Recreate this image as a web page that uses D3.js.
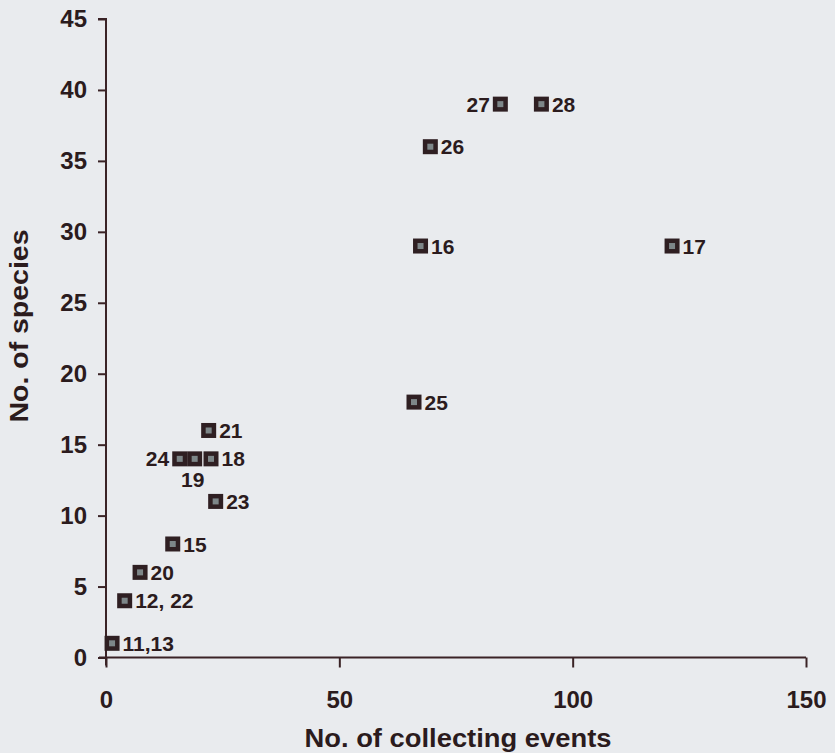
<!DOCTYPE html>
<html>
<head>
<meta charset="utf-8">
<script src="https://cdn.jsdelivr.net/npm/d3@7"></script>
<style>
  html, body { margin: 0; padding: 0; background: #e9ebee; }
  svg { display: block; }
  text { font-family: "Liberation Sans", Arial, sans-serif; font-weight: bold; fill: #2b1b1d; }
</style>
</head>
<body>
<svg id="chart" width="835" height="753"></svg>
<script>
// ---- data ----
const labels = ["11,13", "12, 22", "20", "15", "24", "19", "18", "21", "23", "25", "16", "26", "27", "28", "17"];
const events = [1.3, 4, 7.3, 14.3, 15.8, 19.0, 22.5, 22, 23.5, 66, 67.4, 69.5, 84.5, 93.3, 121.3];
const species = [1, 4, 6, 8, 14, 14, 14, 16, 11, 18, 29, 36, 39, 39, 29];
const xTicks = [0, 50, 100, 150];
const yTicks = [0, 5, 10, 15, 20, 25, 30, 35, 40, 45];
const xTitle = "No. of collecting events";
const yTitle = "No. of species";

// ---- layout ----
const svg = d3.select("#chart");
const axisColor = "#3a2326";
const x = d3.scaleLinear().domain([0, 150]).range([106, 806]);
const y = d3.scaleLinear().domain([0, 45]).range([657.5, 19]);

// axes
const xAxis = d3.axisBottom(x).tickValues(xTicks).tickSize(10).tickPadding(23);
const yAxis = d3.axisLeft(y).tickValues(yTicks).tickSize(8).tickPadding(11);

const gx = svg.append("g").attr("transform", `translate(0,${y(0)})`).call(xAxis);
const gy = svg.append("g").attr("transform", `translate(${x(0)},0)`).call(yAxis);

[gx, gy].forEach(g => {
  g.select(".domain").attr("stroke", axisColor).attr("stroke-width", 2);
  g.selectAll(".tick line").attr("stroke", axisColor).attr("stroke-width", 2);
  g.selectAll(".tick text").attr("font-size", 24).attr("font-family", "Liberation Sans, Arial, sans-serif")
    .attr("font-weight", "bold").attr("fill", "#2b1b1d");
});
gx.select(".domain").attr("d", `M${x(0) - 7},0H${x(150)}`);
gy.select(".domain").attr("d", `M-8,${y(45)}H0V${y(0) + 8}`);

// axis titles
svg.append("text").attr("x", 458).attr("y", 747)
  .attr("text-anchor", "middle").attr("font-size", 26)
  .attr("textLength", 307).attr("lengthAdjust", "spacingAndGlyphs").text(xTitle);
svg.append("text").attr("transform", `translate(28,326) rotate(-90)`)
  .attr("text-anchor", "middle").attr("font-size", 26)
  .attr("textLength", 193).attr("lengthAdjust", "spacingAndGlyphs").text(yTitle);

// points
const data = labels.map((l, i) => ({ label: l, x: events[i], y: species[i] }));
const ms = 15;
const pts = svg.append("g").selectAll("g").data(data).join("g")
  .attr("transform", d => `translate(${x(d.x)},${y(d.y)})`);
pts.append("rect").attr("x", -ms / 2).attr("y", -ms / 2).attr("width", ms).attr("height", ms)
  .attr("fill", "#2f1f22");
pts.append("rect").attr("x", -3).attr("y", -3).attr("width", 6).attr("height", 6)
  .attr("fill", "#7d8688");

// label placement by side
const leftSide = new Set(["24", "27"]);
const below = new Set(["19"]);
pts.append("text")
  .attr("font-size", 21)
  .attr("dy", "0.36em")
  .attr("text-anchor", d => leftSide.has(d.label) ? "end" : (below.has(d.label) ? "middle" : "start"))
  .attr("x", d => leftSide.has(d.label) ? -ms / 2 - 3 : (below.has(d.label) ? -2 : ms / 2 + 3))
  .attr("y", d => below.has(d.label) ? 21 : 0)
  .text(d => d.label);
</script>
</body>
</html>
